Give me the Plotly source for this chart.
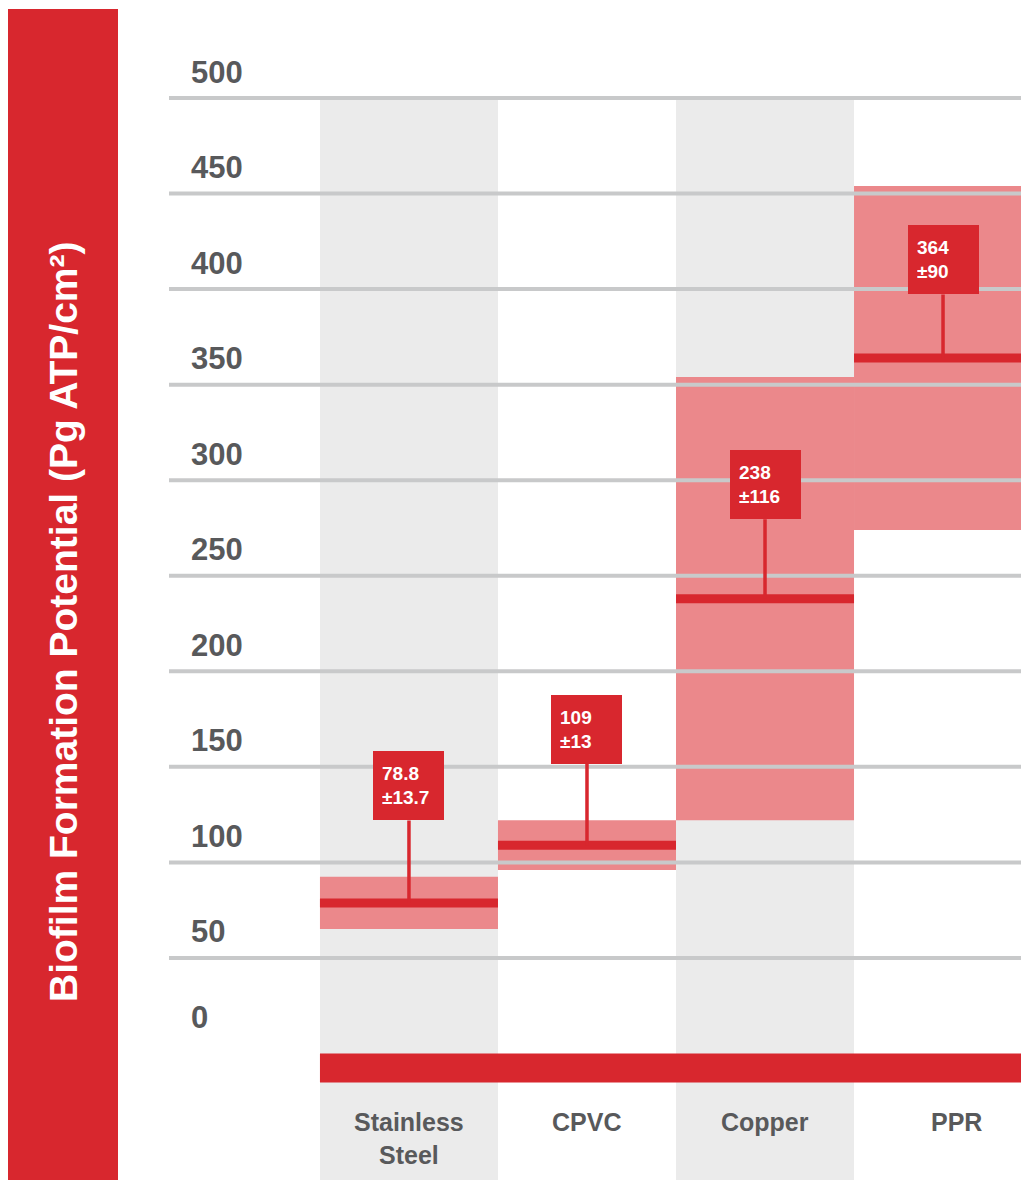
import plotly.graph_objects as go

# ---- data ----
categories = ["Stainless<br>Steel", "CPVC", "Copper", "PPR"]
means = [78.8, 109, 238, 364]
sds = [13.7, 13, 116, 90]
y_ticks = [0, 50, 100, 150, 200, 250, 300, 350, 400, 450, 500]
y_title = "Biofilm Formation Potential (Pg ATP/cm²)"

# ---- styles ----
RED = "#d8272e"
PINK = "#eb888b"
GRAY_COL = "#ebebeb"
GRID = "#c8c9ca"
TXT = "#58595b"
FONT = "Liberation Sans, Arial, sans-serif"
label_offsets = [-117, -116, -114, -98]   # pixel offset of value boxes above mean
cat_xshift = [0, 0, 0, 13]

PLOT_TOP = 94
PLOT_H = 1180 - PLOT_TOP
PLOT_L = 169
PLOT_W = 1021 - PLOT_L

xs = list(range(len(categories)))

fig = go.Figure()

# SD bands
fig.add_trace(go.Bar(
    x=xs,
    y=[2 * s for s in sds],
    base=[m - s for m, s in zip(means, sds)],
    width=1,
    marker=dict(color=PINK, line=dict(width=0)),
    hoverinfo="skip",
))

# mean lines (full column width via horizontal error bars)
fig.add_trace(go.Scatter(
    x=xs, y=means, mode="markers",
    marker=dict(color="rgba(0,0,0,0)", size=1),
    error_x=dict(type="constant", value=0.5, thickness=9, width=0, color=RED),
    hoverinfo="skip",
))

y_top = max(y_ticks)
shapes = []
# alternating gray columns
for i in xs:
    if i % 2 == 0:
        shapes.append(dict(type="rect", xref="x", yref="y", x0=i - 0.5, x1=i + 0.5,
                           y0=-80, y1=y_top, fillcolor=GRAY_COL, line=dict(width=0), layer="below"))
# gridlines above bands
for v in y_ticks:
    if v == 0:
        continue
    shapes.append(dict(type="line", xref="paper", yref="y", x0=0, x1=1, y0=v, y1=v,
                       line=dict(color=GRID, width=4), layer="above"))
# red base bar
shapes.append(dict(type="rect", xref="x", yref="y", x0=-0.5, x1=len(categories) - 0.5,
                   y0=-15.2, y1=0, fillcolor=RED, line=dict(width=0), layer="above"))
# left red title band
shapes.append(dict(type="rect", xref="paper", yref="paper",
                   x0=(8 - PLOT_L) / PLOT_W, x1=(118 - PLOT_L) / PLOT_W,
                   y0=0, y1=(1180 - 9) / PLOT_H, fillcolor=RED, line=dict(width=0), layer="above"))

annotations = []
# y tick labels (above gridlines)
for v in y_ticks:
    annotations.append(dict(xref="paper", yref="y", x=0, y=v, xanchor="left", yanchor="middle",
                            xshift=20, yshift=36 if v == 0 else 26, showarrow=False,
                            text=f"<b>{v}</b>", font=dict(family=FONT, size=31, color=TXT)))
# category labels
for i, c in enumerate(categories):
    annotations.append(dict(xref="x", yref="y", x=i, y=0, xanchor="center", yanchor="top",
                            yshift=-53, xshift=cat_xshift[i], showarrow=False,
                            text=f"<b>{c}</b>", font=dict(family=FONT, size=25, color=TXT)))
# value boxes with stems
for i, (m, s) in enumerate(zip(means, sds)):
    annotations.append(dict(xref="x", yref="y", x=i, y=m, ax=0, ay=label_offsets[i],
                            showarrow=True, arrowhead=0, arrowwidth=3.5, arrowcolor=RED, standoff=0,
                            text=f"<b>{m:g}<br>±{s:g}</b>", align="left", valign="middle",
                            width=53, height=51, borderpad=9, borderwidth=0, bgcolor=RED,
                            font=dict(family=FONT, size=19, color="white")))
# title
annotations.append(dict(xref="paper", yref="paper", x=(63 - PLOT_L) / PLOT_W, y=(1180 - 622) / PLOT_H,
                        xanchor="center", yanchor="middle", textangle=-90, showarrow=False,
                        text=f"<b>{y_title}</b>", font=dict(family=FONT, size=39, color="white")))

fig.update_layout(
    width=1021, height=1180,
    margin=dict(l=PLOT_L, r=0, t=PLOT_TOP, b=0),
    paper_bgcolor="white", plot_bgcolor="white",
    showlegend=False,
    shapes=shapes, annotations=annotations,
    xaxis=dict(range=[-1.348, 3.438], showgrid=False, zeroline=False, showticklabels=False,
               showline=False, fixedrange=True),
    yaxis=dict(range=[-66.2, 502.1], showgrid=False, zeroline=False, showticklabels=False,
               showline=False, fixedrange=True),
)

fig.write_html("out.html")
